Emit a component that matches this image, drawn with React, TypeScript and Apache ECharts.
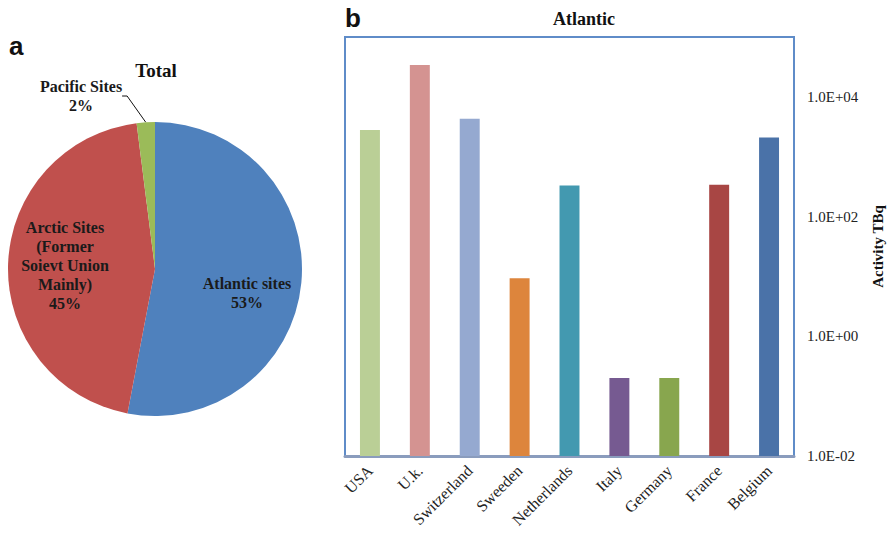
import React, { useEffect, useRef } from "react";
import * as echarts from "echarts";

const pieNames = ["Atlantic sites", "Arctic Sites\n(Former\nSoievt Union\nMainly)", "Pacific Sites"];
const pieValues = [53, 45, 2];
const pieColors = ["#4F81BD", "#C0504D", "#9BBB59"];

const countries = ["USA", "U.k.", "Switzerland", "Sweeden", "Netherlands", "Italy", "Germany", "France", "Belgium"];
const activity = [2800, 34000, 4300, 9.3, 330, 0.2, 0.2, 340, 2100];
const barColors = ["#BACF96", "#D49391", "#95A9D0", "#DD853C", "#4399B0", "#765A91", "#88A64E", "#A84644", "#4A72A8"];
const axisMin = 0.01;
const axisMax = 100000;

const labelSpots = [
  { x: 247, y: 293 },
  { x: 65, y: 265 },
  { x: 81, y: 96 },
];

const serif = "Liberation Serif";

export default function App() {
  const ref = useRef<HTMLDivElement>(null);
  useEffect(() => {
    document.body.style.margin = "0";
    const chart = echarts.init(ref.current!, null, { renderer: "svg" });
    chart.setOption({
      animation: false,
      backgroundColor: "#ffffff",
      graphic: [
        { type: "text", left: 9, top: 33, style: { text: "a", font: "bold 26px Liberation Sans", fill: "#111" } },
        { type: "text", left: 345, top: 5, style: { text: "b", font: "bold 26px Liberation Sans", fill: "#111" } },
        { type: "text", x: 156, y: 70, style: { text: "Total", font: `bold 19px ${serif}`, fill: "#111", align: "center", verticalAlign: "middle" } },
        { type: "text", x: 584, y: 19, style: { text: "Atlantic", font: `bold 18px ${serif}`, fill: "#111", align: "center", verticalAlign: "middle" } },
      ],
      grid: {
        left: 345,
        right: 102,
        top: 37,
        bottom: 78,
        show: true,
        borderColor: "#5F8CC8",
        borderWidth: 2,
        backgroundColor: "transparent",
      },
      xAxis: {
        type: "category",
        data: countries,
        axisLine: { show: true, lineStyle: { color: "#8A9CBD", width: 3 } },
        axisTick: { show: false },
        axisLabel: {
          rotate: 45,
          interval: 0,
          margin: 12,
          fontFamily: serif,
          fontSize: 16,
          color: "#222",
        },
      },
      yAxis: {
        type: "log",
        logBase: 10,
        min: axisMin,
        max: axisMax,
        position: "right",
        axisLine: { show: false },
        axisTick: { show: false },
        splitLine: { show: false },
        axisLabel: {
          margin: 13,
          fontFamily: serif,
          fontSize: 15,
          color: "#222",
          formatter: (v: number) => {
            const e = Math.round(Math.log10(v));
            if (e % 2 !== 0) return "";
            const s = e < 0 ? "-" : "+";
            return `1.0E${s}${String(Math.abs(e)).padStart(2, "0")}`;
          },
        },
        name: "Activity TBq",
        nameLocation: "middle",
        nameRotate: 90,
        nameGap: 76,
        nameTextStyle: { fontFamily: serif, fontSize: 15, fontWeight: "bold", color: "#111" },
      },
      series: [
        {
          type: "pie",
          center: [155, 269],
          radius: 147,
          startAngle: 90,
          clockwise: true,
          data: pieNames.map((n, i) => ({
            name: n,
            value: pieValues[i],
            itemStyle: { color: pieColors[i] },
            label: { position: i === 2 ? "outside" : "inside" },
            labelLine: { show: i === 2 },
          })),
          label: {
            formatter: "{b}\n{c}%",
            fontFamily: serif,
            fontSize: 16,
            fontWeight: "bold",
            color: "#1a1a1a",
            lineHeight: 19,
            align: "center",
          },
          labelLine: { lineStyle: { color: "#111", width: 1 }, length: 20, length2: 5 },
          labelLayout: (p: any) => {
            const s = labelSpots[p.dataIndex];
            return { x: s.x, y: s.y, align: "center", verticalAlign: "middle" };
          },
          emphasis: { disabled: true },
        },
        {
          type: "custom",
          data: activity.map((v, i) => [i, v]),
          encode: { x: 0, y: 1 },
          renderItem: (params: any, api: any) => {
            const idx = api.value(0);
            const top = api.coord([idx, api.value(1)]);
            const base = api.coord([idx, axisMin]);
            const w = api.size([1, 1])[0] * 0.4;
            return {
              type: "rect",
              shape: { x: top[0] - w / 2, y: top[1], width: w, height: base[1] - top[1] },
              style: { fill: barColors[params.dataIndex] },
            };
          },
        },
      ],
    });
    return () => chart.dispose();
  }, []);
  return <div ref={ref} style={{ position: "fixed", left: 0, top: 0, width: 896, height: 534 }} />;
}
